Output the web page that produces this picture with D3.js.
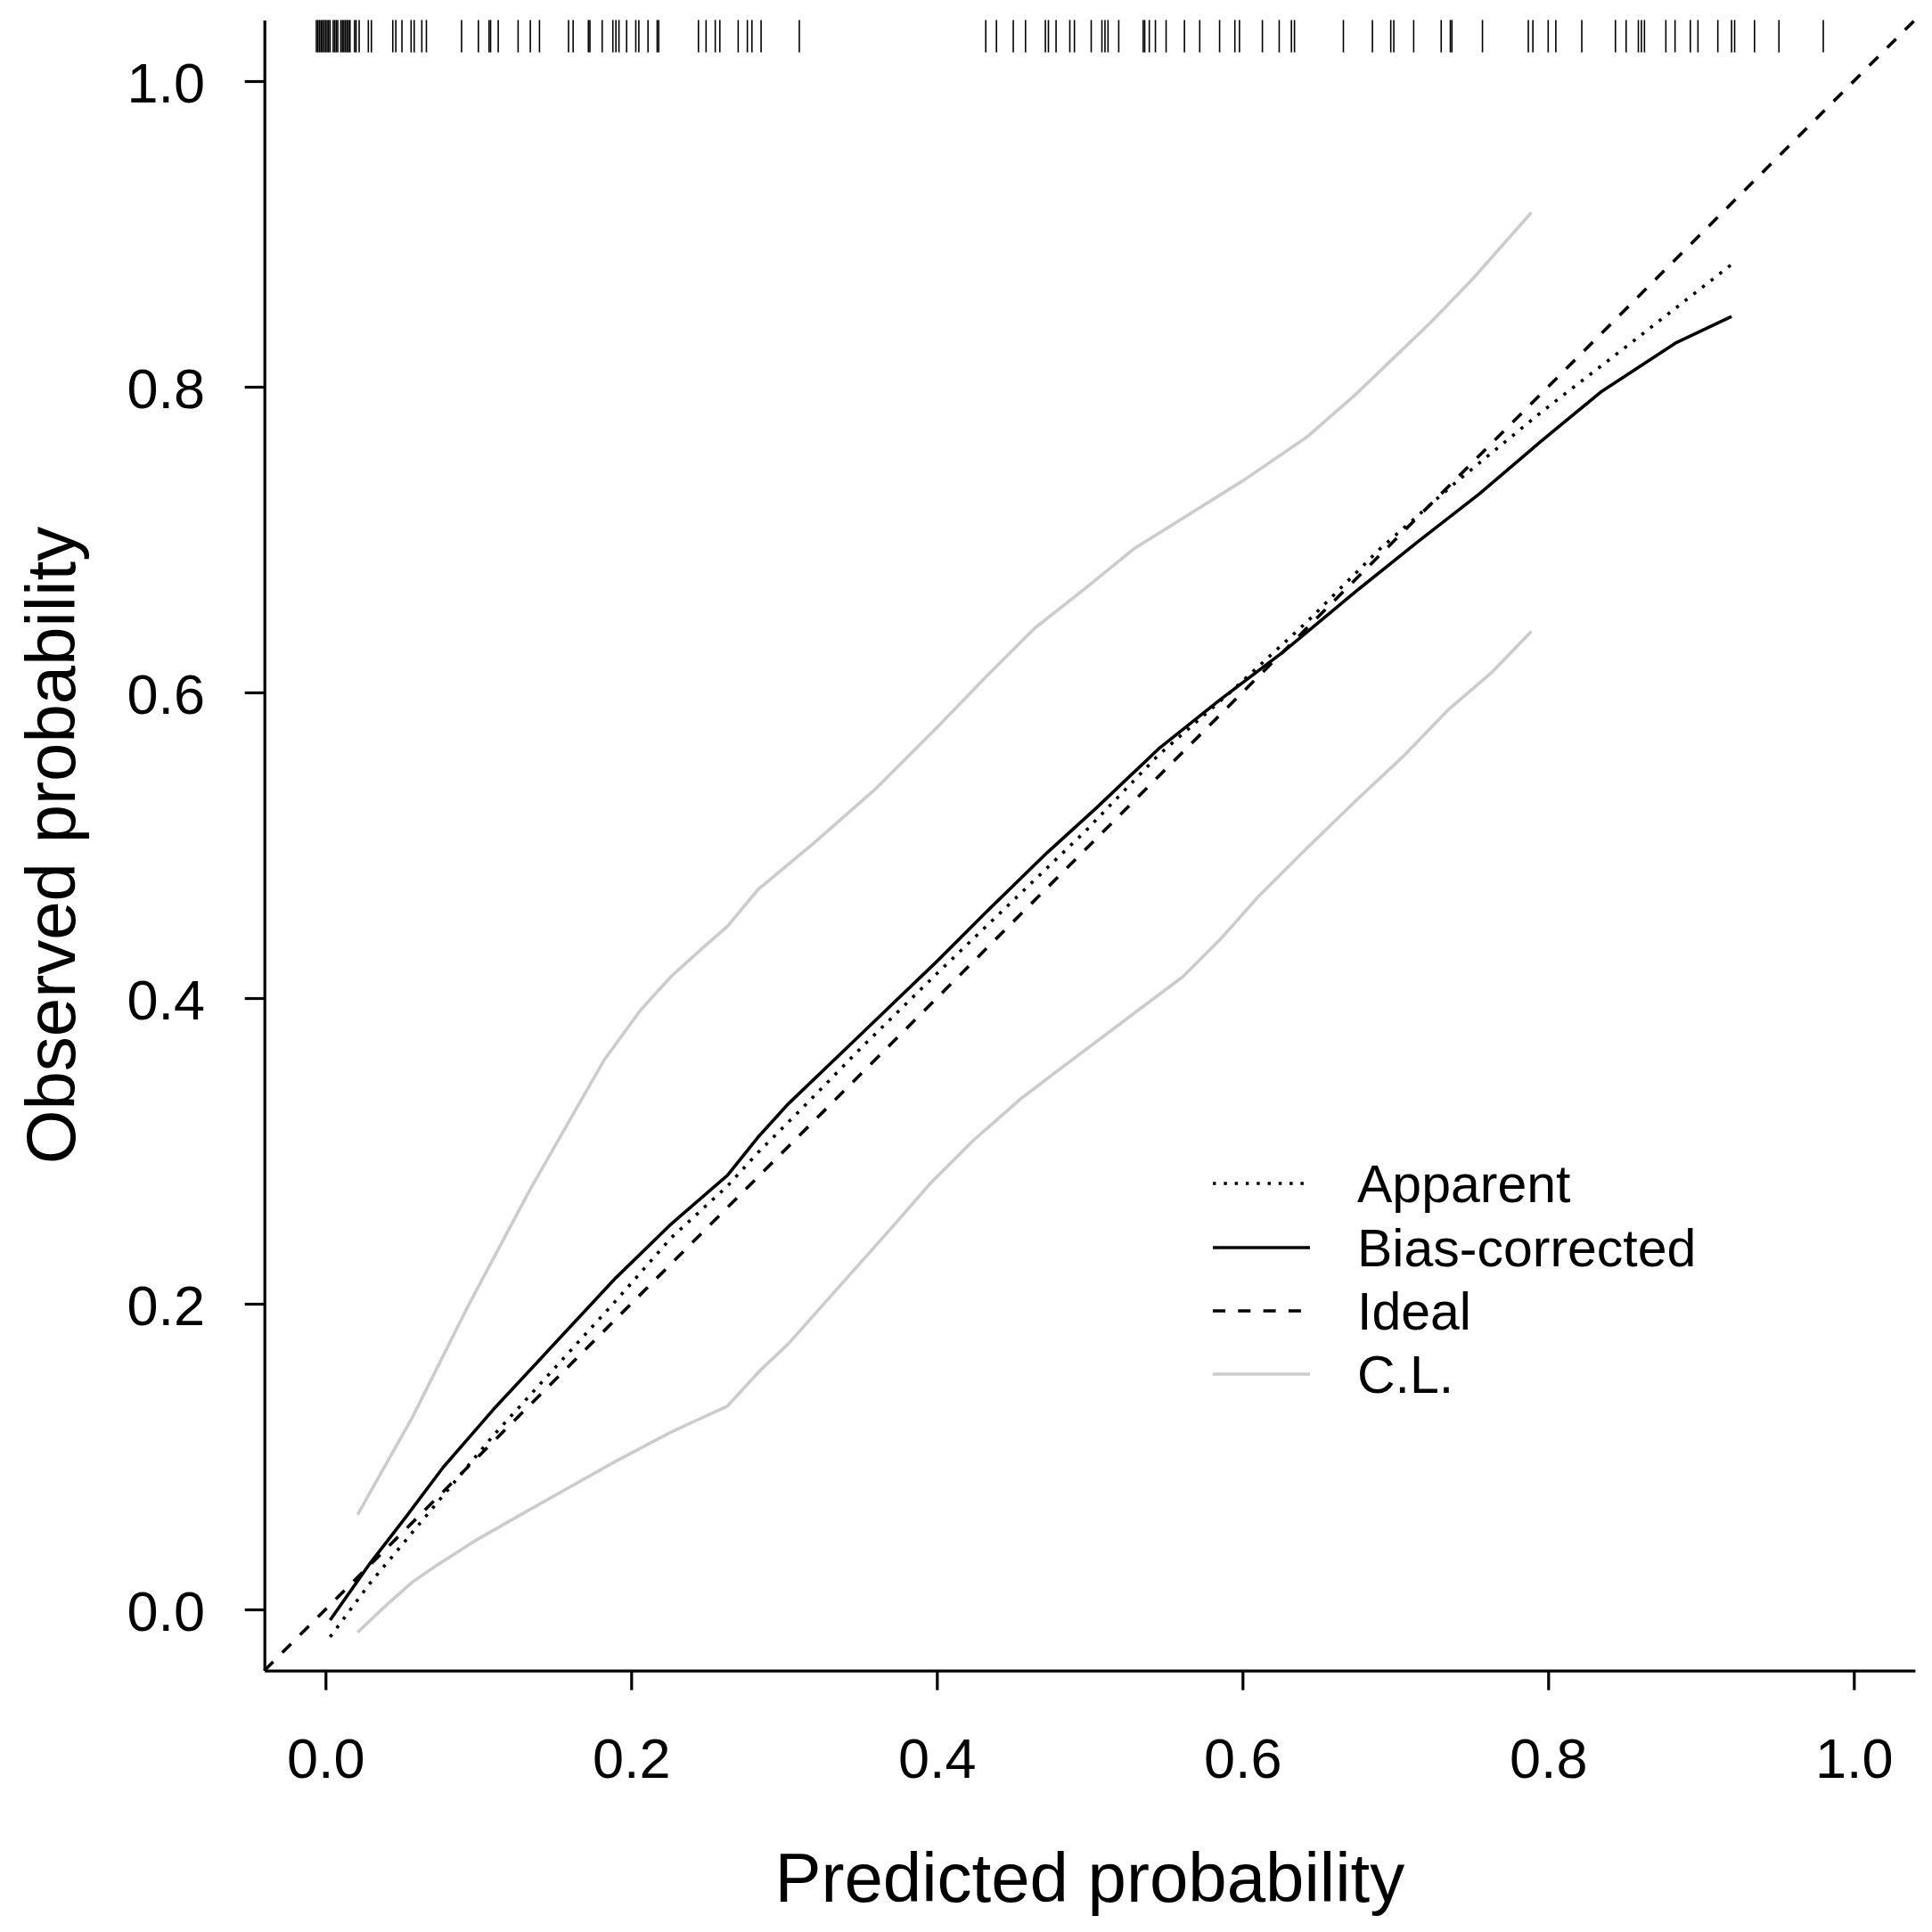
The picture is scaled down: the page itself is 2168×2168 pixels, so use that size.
<!DOCTYPE html>
<html>
<head>
<meta charset="utf-8">
<script src="https://cdn.jsdelivr.net/npm/d3@7"></script>
<style>
  html, body { margin: 0; padding: 0; background: #fff; }
  svg { display: block; font-family: "Liberation Sans", Arial, sans-serif; }
</style>
</head>
<body>
<div id="chart"></div>
<script>
/*
 * Calibration plot: apparent vs bias-corrected curve
 */

// predicted probabilities shown as a rug along the top
var rugValues = [
  -0.006, -0.005, -0.004, -0.003, -0.002, -0.001, 0.000, 0.001, 0.002, 0.003,
  0.005, 0.006, 0.007, 0.008, 0.010, 0.011, 0.012, 0.013, 0.014, 0.015,
  0.016, 0.019, 0.020, 0.022, 0.028, 0.030, 0.044, 0.046, 0.050, 0.056,
  0.058, 0.063, 0.066, 0.089, 0.100, 0.107, 0.108, 0.113, 0.126, 0.134,
  0.140, 0.159, 0.162, 0.172, 0.173, 0.181, 0.188, 0.190, 0.192, 0.197,
  0.203, 0.205, 0.211, 0.217, 0.218, 0.244, 0.249, 0.255, 0.258, 0.270,
  0.276, 0.279, 0.285, 0.310,
  0.432, 0.439, 0.450, 0.458, 0.471, 0.473, 0.478, 0.487, 0.490, 0.501,
  0.508, 0.510, 0.512, 0.519, 0.535, 0.536, 0.539, 0.543, 0.550, 0.562,
  0.572, 0.585, 0.595, 0.598, 0.613, 0.624, 0.632, 0.634, 0.666, 0.685,
  0.697, 0.699, 0.712, 0.730, 0.736, 0.737, 0.757, 0.787, 0.790, 0.800,
  0.805, 0.822, 0.844, 0.851, 0.859, 0.861, 0.863, 0.877, 0.883, 0.893,
  0.898, 0.911, 0.920, 0.922, 0.935, 0.951, 0.980
];

// [predicted, observed]
var apparent = [
  [0.003, -0.018], [0.029, 0.017], [0.069, 0.065], [0.110, 0.114], [0.150, 0.158],
  [0.190, 0.202], [0.226, 0.243], [0.263, 0.277], [0.283, 0.299], [0.311, 0.327],
  [0.351, 0.368], [0.400, 0.416], [0.448, 0.462], [0.497, 0.509], [0.545, 0.559],
  [0.593, 0.601], [0.642, 0.646], [0.690, 0.694], [0.739, 0.737], [0.795, 0.783],
  [0.852, 0.827], [0.920, 0.880]
];

var biasCorrected = [
  [0.003, -0.007], [0.029, 0.030], [0.053, 0.061], [0.077, 0.093], [0.110, 0.131],
  [0.150, 0.174], [0.190, 0.217], [0.226, 0.252], [0.263, 0.284], [0.283, 0.309],
  [0.303, 0.331], [0.351, 0.377], [0.400, 0.424], [0.432, 0.456], [0.472, 0.495],
  [0.505, 0.525], [0.545, 0.563], [0.585, 0.595], [0.626, 0.626], [0.674, 0.666],
  [0.714, 0.698], [0.755, 0.730], [0.795, 0.764], [0.835, 0.797], [0.884, 0.829],
  [0.920, 0.846]
];

var ideal = [[-0.04, -0.04], [1.04, 1.04]];

var clUpper = [
  [0.021, 0.062], [0.057, 0.126], [0.093, 0.198], [0.134, 0.275], [0.182, 0.359],
  [0.206, 0.392], [0.226, 0.414], [0.247, 0.433], [0.263, 0.447], [0.283, 0.471],
  [0.319, 0.501], [0.360, 0.537], [0.400, 0.577], [0.432, 0.610], [0.464, 0.642],
  [0.497, 0.668], [0.529, 0.694], [0.561, 0.714], [0.601, 0.739], [0.642, 0.767],
  [0.674, 0.795], [0.698, 0.818], [0.723, 0.842], [0.751, 0.871], [0.789, 0.914]
];

var clLower = [
  [0.021, -0.015], [0.040, 0.003], [0.057, 0.018], [0.073, 0.029], [0.098, 0.045],
  [0.126, 0.061], [0.158, 0.079], [0.190, 0.097], [0.226, 0.116], [0.263, 0.133],
  [0.283, 0.155], [0.303, 0.174], [0.335, 0.210], [0.368, 0.247], [0.396, 0.279],
  [0.424, 0.307], [0.456, 0.335], [0.489, 0.360], [0.521, 0.384], [0.561, 0.414],
  [0.585, 0.438], [0.610, 0.466], [0.642, 0.498], [0.674, 0.529], [0.706, 0.559],
  [0.735, 0.589], [0.763, 0.613], [0.789, 0.640]
];

var tickValues = [0, 0.2, 0.4, 0.6, 0.8, 1.0];
var tickLabels = ["0.0", "0.2", "0.4", "0.6", "0.8", "1.0"];

var legendItems = ["Apparent", "Bias-corrected", "Ideal", "C.L."];

// line styles for each series
var styles = {
  apparent: { color: "#000", dash: "3.5 8.8" },
  bias: { color: "#000", dash: null },
  ideal: { color: "#000", dash: "14 14.3" },
  cl: { color: "#cccccc", dash: null }
};
var legendStyles = [styles.apparent, styles.bias, styles.ideal, styles.cl];

var width = 2168, height = 2168;
var lineWidth = 3.6;

var svg = d3.select("#chart").append("svg")
  .attr("width", width).attr("height", height);

svg.append("rect").attr("width", width).attr("height", height).style("fill", "white");

var x = d3.scaleLinear().domain([-0.04, 1.04]).range([296.7, 2148.9]);
var y = d3.scaleLinear().domain([-0.04, 1.04]).range([1874.6, 22.4]);

var line = d3.line().x(function(d){ return x(d[0]); }).y(function(d){ return y(d[1]); });

// curves
function drawCurve(data, style){
  svg.append("path")
    .datum(data)
    .attr("d", line)
    .style("fill", "none")
    .style("stroke", style.color)
    .style("stroke-width", lineWidth)
    .style("stroke-linejoin", "round")
    .style("stroke-dasharray", style.dash);
}

drawCurve(clUpper, styles.cl);
drawCurve(clLower, styles.cl);
drawCurve(ideal, styles.ideal);
drawCurve(apparent, styles.apparent);
drawCurve(biasCorrected, styles.bias);

// rug along the top edge
var rugTop = 1.04, rugBottom = 1.04 - 0.0212;
svg.append("g").selectAll("line")
  .data(rugValues)
  .enter().append("line")
  .attr("x1", function(d){ return x(d); })
  .attr("x2", function(d){ return x(d); })
  .attr("y1", y(rugTop))
  .attr("y2", y(rugBottom))
  .style("stroke", "#000")
  .style("stroke-width", 1.6);

// axes
var xAxis = d3.axisBottom(x)
  .tickValues(tickValues)
  .tickFormat(function(d, i){ return tickLabels[i]; })
  .tickSize(22)
  .tickSizeOuter(0);

var yAxis = d3.axisLeft(y)
  .tickValues(tickValues)
  .tickFormat(function(d, i){ return tickLabels[i]; })
  .tickSize(22)
  .tickSizeOuter(0);

var gx = svg.append("g").attr("transform", "translate(0," + y(-0.04) + ")").call(xAxis);
var gy = svg.append("g").attr("transform", "translate(" + x(-0.04) + ",0)").call(yAxis);

[gx, gy].forEach(function(g){
  g.selectAll("path, line").style("stroke", "#000").style("stroke-width", 3.2);
  g.selectAll("text")
    .style("font-family", "'Liberation Sans', Arial, sans-serif")
    .style("font-size", "63px")
    .style("fill", "#000");
});
gx.selectAll("text").attr("y", 120).attr("dy", null);
gy.selectAll("text").attr("x", -66.7).attr("dy", "0.37em");

// axis titles
svg.append("text")
  .attr("x", x(0.5))
  .attr("y", 2134)
  .attr("text-anchor", "middle")
  .style("font-size", "78px")
  .text("Predicted probability");

svg.append("text")
  .attr("transform", "translate(84," + y(0.5) + ") rotate(-90)")
  .attr("text-anchor", "middle")
  .style("font-size", "78px")
  .text("Observed probability");

// legend
var legend = svg.append("g");
var rowY = [1328, 1400, 1471, 1542];

legendItems.forEach(function(label, i){
  var st = legendStyles[i];
  legend.append("line")
    .attr("x1", 1361).attr("x2", 1470)
    .attr("y1", rowY[i]).attr("y2", rowY[i])
    .style("stroke", st.color)
    .style("stroke-width", lineWidth)
    .style("stroke-dasharray", st.dash);
  legend.append("text")
    .attr("x", 1523)
    .attr("y", rowY[i])
    .attr("dy", "0.36em")
    .style("font-size", "59px")
    .text(label);
});
</script>
</body>
</html>
